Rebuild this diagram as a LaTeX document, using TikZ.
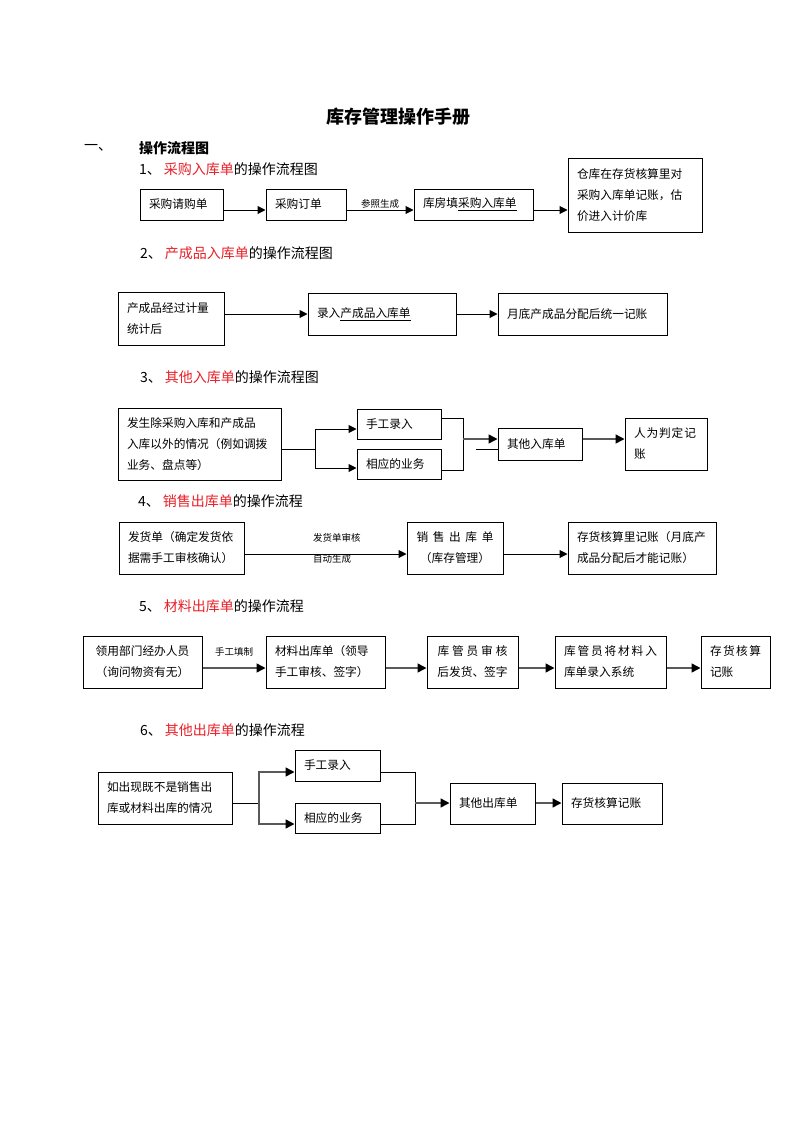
\documentclass[tikz,border=0pt]{standalone}
\usepackage{fontspec}
\setmainfont{Noto Sans CJK SC}
\usetikzlibrary{arrows.meta}
\definecolor{hred}{RGB}{232,32,40}
\newcommand{\bx}{\fontsize{11.7pt}{21pt}\selectfont}
\newcommand{\hd}{\fontsize{14pt}{16pt}\selectfont}
\newcommand{\sm}{\fontsize{9.5pt}{11pt}\selectfont}
\newcommand{\spread}[2]{\makebox[#1][s]{#2}}
\begin{document}
\begin{tikzpicture}[x=1pt,y=-1pt,
  box/.style={draw, line width=1pt, inner xsep=9pt, inner ysep=0pt, align=left, font=\bx},
  cbox/.style={box, align=center},
  arr/.style={line width=1pt, -{Triangle[length=8pt,width=8pt]}},
  garr/.style={line width=1.5pt, draw=black!65, -{Triangle[length=9pt,width=9pt,color=black,fill=black]}},
  ln/.style={line width=1pt},
  head/.style={anchor=west, font=\hd, inner sep=0pt},
  lbl/.style={font=\sm, inner sep=1pt}]
\useasboundingbox[fill=white] (0,0) rectangle (793,1122);

% title and section
\node[font=\fontsize{18pt}{20pt}\selectfont\bfseries, inner sep=0pt] (title) at (398,117) {库存管理操作手册};
\node[head] (sec) at (84,148) {一、};
\node[head, font=\hd\bfseries] (sect) at (139,148) {操作流程图};

% ---------- flow 1
\node[head] (h1) at (139,169) {1、\hspace{3pt}\textcolor{hred}{采购入库单}的操作流程图};
\node[box, text width=65pt, minimum height=31pt] (A) at (181.5,204.5) {采购请购单};
\node[box, text width=62pt, minimum height=31pt] (B) at (306,204.5) {采购订单};
\node[box, text width=101pt, minimum height=31pt] (C) at (473.5,204.5) {库房填\underline{采购入库单}};
\node[box, text width=116pt, minimum height=74pt] (D) at (635,195) {仓库在存货核算里对\\采购入库单记账，估\\价进入计价库};
\draw[arr] (A.east|-0,210) -- (B.west|-0,210);
\draw[arr] (B.east|-0,210) -- node[lbl, above] (l1) {参照生成} (C.west|-0,210);
\draw[arr] (C.east|-0,210) -- (D.west|-0,210);

% ---------- flow 2
\node[head] (h2) at (140,253) {2、\hspace{3pt}\textcolor{hred}{产成品入库单}的操作流程图};
\node[box, text width=88pt, minimum height=53pt] (E) at (171,318.5) {产成品经过计量\\统计后};
\node[box, text width=130pt, minimum height=42pt] (F) at (382,314) {录入\underline{产成品入库单}};
\node[box, text width=151pt, minimum height=42pt] (G) at (582.5,314) {月底产成品分配后统一记账};
\draw[arr] (E.east|-0,314) -- (F.west|-0,314);
\draw[arr] (F.east|-0,314) -- (G.west|-0,314);

% ---------- flow 3
\node[head] (h3) at (140,377) {3、\hspace{3pt}\textcolor{hred}{其他入库单}的操作流程图};
\node[box, text width=145pt, minimum height=72pt] (H) at (199.5,444) {发生除采购入库和产成品\\入库以外的情况（例如调拨\\业务、盘点等）};
\node[box, text width=66pt, minimum height=30pt] (I) at (399,424) {手工录入};
\node[box, text width=66pt, minimum height=30pt] (J) at (399,464) {相应的业务};
\node[box, text width=66pt, minimum height=32pt] (K) at (540,444) {其他入库单};
\node[box, text width=64pt, minimum height=52pt] (L) at (666,444) {\spread{62pt}{人\hfill 为\hfill 判\hfill 定\hfill 记}\\账};
\coordinate (j3) at (315,449);
\coordinate (m3) at (463,439);
\coordinate (s3) at (476,449);
\draw[ln] (H.east|-j3) -- (j3);
\draw[arr] (j3) |- (I.west|-0,429);
\draw[arr] (j3) |- (J.west|-0,468);
\draw[ln] (I.east|-0,418) -| (m3);
\draw[ln] (J.east|-0,470) -| (m3);
\draw[garr] (m3) -- (K.west|-m3);
\draw[ln] (s3) -- (K.west|-s3);
\draw[garr] (K.east|-0,439) -- (L.west|-0,439);

% ---------- flow 4
\node[head] (h4) at (138,501) {4、\hspace{3pt}\textcolor{hred}{销售出库单}的操作流程};
\node[box, text width=107pt, minimum height=52pt] (M) at (181.5,548) {发货单（确定发货依\\据需手工审核确认）};
\node[cbox, text width=78pt, minimum height=52pt] (N) at (455,548) {\spread{77pt}{销\hfill 售\hfill 出\hfill 库\hfill 单}\\（库存管理）};
\node[box, text width=130pt, minimum height=52pt] (O) at (642,548) {存货核算里记账（月底产\\成品分配后才能记账）};
\draw[arr] (M.east|-0,554) -- node[lbl, pos=0.5, anchor=west, xshift=-14pt, yshift=16pt] (l4a) {发货单审核}
  node[lbl, pos=0.5, anchor=west, xshift=-14pt, yshift=-5pt] (l4b) {自动生成} (N.west|-0,554);
\draw[arr] (N.east|-0,554) -- (O.west|-0,554);

% ---------- flow 5
\node[head] (h5) at (139,606) {5、\hspace{3pt}\textcolor{hred}{材料出库单}的操作流程};
\node[cbox, text width=101pt, minimum height=52pt] (P) at (142.5,662) {领用部门经办人员\\（询问物资有无）};
\node[box, text width=101pt, minimum height=52pt] (Q) at (325.5,662) {材料出库单（领导\\手工审核、签字）};
\node[cbox, text width=73pt, minimum height=52pt] (R) at (472.5,662) {\spread{70pt}{库\hfill 管\hfill 员\hfill 审\hfill 核}\\后发货、签字};
\node[box, text width=93pt, minimum height=52pt] (S) at (610.5,662) {\spread{93pt}{库\hfill 管\hfill 员\hfill 将\hfill 材\hfill 料\hfill 入}\\库单录入系统};
\node[box, text width=51pt, minimum height=52pt] (T) at (735.5,662) {\spread{51pt}{存\hfill 货\hfill 核\hfill 算}\\记账};
\draw[garr] (P.east|-0,668) -- node[lbl, above=10pt] (l5) {手工填制} (Q.west|-0,668);
\draw[garr] (Q.east|-0,668) -- (R.west|-0,668);
\draw[garr] (R.east|-0,668) -- (S.west|-0,668);
\draw[garr] (S.east|-0,668) -- (T.west|-0,668);

% ---------- flow 6
\node[head] (h6) at (140,730) {6、\hspace{3pt}\textcolor{hred}{其他出库单}的操作流程};
\node[box, text width=116pt, minimum height=52pt] (U) at (165,798) {如出现既不是销售出\\库或材料出库的情况};
\node[box, text width=67pt, minimum height=31pt] (V) at (337.5,765.5) {手工录入};
\node[box, text width=67pt, minimum height=30pt] (W) at (337.5,818) {相应的业务};
\node[box, text width=67pt, minimum height=41pt] (X) at (492.5,803.5) {其他出库单};
\node[box, text width=82pt, minimum height=41pt] (Y) at (612,803.5) {存货核算记账};
\coordinate (j6) at (259,803);
\coordinate (m6) at (415,803);
\draw[ln] (U.east|-j6) -- (j6);
\draw[garr] (j6) |- (V.west|-0,772);
\draw[garr] (j6) |- (W.west|-0,824);
\draw[ln] (V.east|-0,772) -| (m6);
\draw[ln] (W.east|-0,824) -| (m6);
\draw[garr] (m6) -- (X.west|-m6);
\draw[garr] (X.east|-0,803) -- (Y.west|-0,803);
\end{tikzpicture}
\end{document}
